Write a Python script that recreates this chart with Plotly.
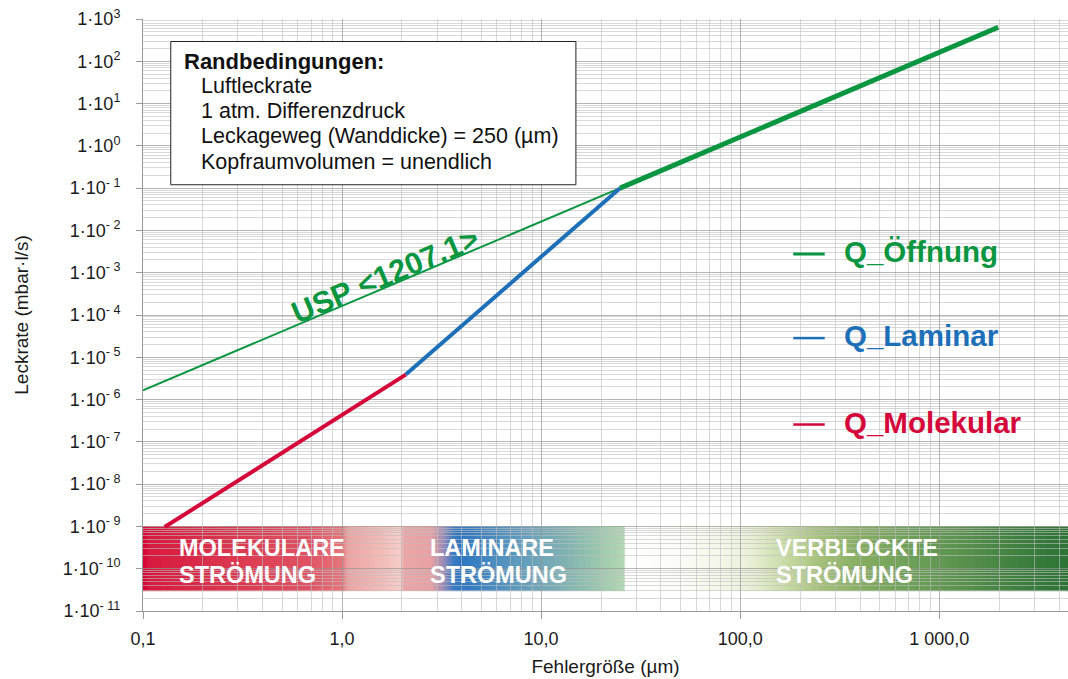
import numpy as np
import plotly.graph_objects as go

# ---------------- data ----------------
usp_d = [0.1, 24.9]            # USP <1207.1> (thin green)
usp_q = [1.66e-6, 0.1]
oeff_d = [24.9, 1980.0]        # Q_Öffnung (thick green)
oeff_q = [0.1, 640.0]
mol_d = [0.1285, 2.09]         # Q_Molekular
mol_q = [9.7e-10, 3.9e-6]
lam_d = [2.09, 24.9]           # Q_Laminar
lam_q = [3.9e-6, 0.1]

x_tickvals = [0.1, 1, 10, 100, 1000]
x_ticktext = ["0,1", "1,0", "10,0", "100,0", "1 000,0"]
y_exponents = list(range(3, -12, -1))

legend_names = ["Q_Öffnung", "Q_Laminar", "Q_Molekular"]
box_title = "Randbedingungen:"
box_lines = ["Luftleckrate", "1 atm. Differenzdruck",
             "Leckageweg (Wanddicke) = 250 (µm)", "Kopfraumvolumen = unendlich"]

# flow regime bands: (x start, x end) in µm, y range
band_molec_lam = [0.1, 26.3]
band_blocked = [30.0, 4500.0]
band_q = [2.95e-11, 1e-9]
regime_line1 = ["MOLEKULARE", "LAMINARE", "VERBLOCKTE"]
regime_line2 = ["STRÖMUNG", "STRÖMUNG", "STRÖMUNG"]
regime_label_x = [0.1476, 2.70, 147.5]
regime_label_q = [10 ** -9.51, 10 ** -10.16]

GREEN = "#0a9640"
BLUE = "#1d6fb8"
RED = "#d5073a"
FONT = "Liberation Sans"

# gradient stops (log10 x, colour)
stops_ml = [(-1.0, "#d50032"), (-0.97, "#d8193f"), (-0.5, "#dc3b52"), (-0.17, "#e05264"),
            (0.0, "#e6757a"), (0.03, "#eda3a3"), (0.2, "#f2bcb8"), (0.29, "#f6ccc8"),
            (0.31, "#eca6a6"), (0.45, "#e8a0a2"), (0.51, "#9a8ab8"), (0.56, "#3a7cc4"),
            (0.6, "#2e76c2"), (0.78, "#4e8ec0"), (0.95, "#6aa2bb"), (1.12, "#80b2b3"),
            (1.29, "#9ac8ad"), (1.43, "#b6dab4")]
stops_bl = [(1.47, "#ffffff"), (1.75, "#fafbf4"), (2.0, "#eef3e0"), (2.1, "#e0ebca"),
            (2.27, "#c0d59a"), (2.4, "#a6c17c"), (2.61, "#85ad62"), (2.9, "#6a9e56"),
            (3.14, "#57904b"), (3.4, "#3e8040"), (3.67, "#2a7234")]


def hex2rgb(h):
    h = h.lstrip("#")
    return np.array([int(h[i:i + 2], 16) for i in (0, 2, 4)], dtype=float)


def colour_at(stops, v):
    xs = [s[0] for s in stops]
    cs = [hex2rgb(s[1]) for s in stops]
    if v <= xs[0]:
        c = cs[0]
    elif v >= xs[-1]:
        c = cs[-1]
    else:
        i = np.searchsorted(xs, v) - 1
        t = (v - xs[i]) / (xs[i + 1] - xs[i])
        c = cs[i] * (1 - t) + cs[i + 1] * t
    return "rgb(%d,%d,%d)" % tuple(np.round(c))


def gradient_shapes(x_range, stops, step=0.012):
    shapes = []
    a = np.log10(x_range[0])
    end = np.log10(x_range[1])
    while a < end - 1e-9:
        b = min(a + step, end)
        shapes.append(dict(type="rect", xref="x", yref="y",
                           x0=10 ** a, x1=10 ** min(b + 0.004, end),
                           y0=band_q[0], y1=band_q[1],
                           fillcolor=colour_at(stops, (a + b) / 2),
                           line=dict(width=0), layer="below"))
        a = b
    return shapes


fig = go.Figure()
fig.add_trace(go.Scatter(x=usp_d, y=usp_q, mode="lines", line=dict(color=GREEN, width=2),
                         showlegend=False, hoverinfo="skip"))
fig.add_trace(go.Scatter(x=oeff_d, y=oeff_q, mode="lines", line=dict(color=GREEN, width=5),
                         name=legend_names[0], showlegend=False))
fig.add_trace(go.Scatter(x=lam_d, y=lam_q, mode="lines", line=dict(color=BLUE, width=4),
                         name=legend_names[1], showlegend=False))
fig.add_trace(go.Scatter(x=mol_d, y=mol_q, mode="lines", line=dict(color=RED, width=4),
                         name=legend_names[2], showlegend=False))

shapes = gradient_shapes(band_molec_lam, stops_ml) + gradient_shapes(band_blocked, stops_bl)

# constraints box
shapes.append(dict(type="rect", xref="paper", yref="paper", x0=0.030, x1=0.468,
                   y0=0.720, y1=0.962, fillcolor="white", line=dict(color="#222", width=1),
                   layer="above"))

annotations = []
annotations.append(dict(xref="paper", yref="paper", x=0.0425, y=0.928, text="<b>%s</b>" % box_title,
                        showarrow=False, xanchor="left", yanchor="middle",
                        font=dict(family=FONT, size=22, color="#111")))
for i, (t, yy) in enumerate(zip(box_lines, [0.886, 0.844, 0.802, 0.759])):
    annotations.append(dict(xref="paper", yref="paper", x=0.0605, y=yy, text=t,
                            showarrow=False, xanchor="left", yanchor="middle",
                            font=dict(family=FONT, size=21.5, color="#111")))

# legend-like labels
leg_cols = [GREEN, BLUE, RED]
leg_y = [0.603, 0.461, 0.315]
leg_w = [3, 2.5, 2.5]
for name, col, yy, w in zip(legend_names, leg_cols, leg_y, leg_w):
    shapes.append(dict(type="line", xref="paper", yref="paper", x0=0.703, x1=0.737,
                       y0=yy, y1=yy, line=dict(color=col, width=w)))
    annotations.append(dict(xref="paper", yref="paper", x=0.756, y=yy + 0.004, text="<b>%s</b>" % name,
                            showarrow=False, xanchor="left", yanchor="middle",
                            font=dict(family=FONT, size=29.5, color=col)))

# USP label along the line
annotations.append(dict(x=np.log10(1.64), y=np.log10(9.0e-4), text="<b>USP &lt;1207.1&gt;</b>",
                        showarrow=False, textangle=-23, xanchor="center", yanchor="middle",
                        font=dict(family=FONT, size=30.5, color=GREEN)))

# regime labels
for t1, t2, xx in zip(regime_line1, regime_line2, regime_label_x):
    for t, qq in zip([t1, t2], regime_label_q):
        annotations.append(dict(x=np.log10(xx), y=np.log10(qq), text="<b>%s</b>" % t,
                                showarrow=False, xanchor="left", yanchor="middle", align="left",
                                font=dict(family=FONT, size=23.5, color="white")))

minor_x = [m * 10.0 ** e for e in range(-1, 4) for m in range(2, 10)]
minor_y = [m * 10.0 ** e for e in range(-11, 3) for m in range(2, 10)]

MAJOR_GRID = "rgba(150,150,150,0.7)"
MINOR_GRID = "rgba(190,190,190,0.6)"

fig.update_layout(
    width=1068, height=679,
    margin=dict(l=143, r=0, t=19, b=68),
    paper_bgcolor="white", plot_bgcolor="white",
    shapes=shapes, annotations=annotations,
    font=dict(family=FONT, size=18, color="#1a1a1a"),
    showlegend=False,
)
fig.update_xaxes(
    type="log", range=[-1, 3.647], automargin=False,
    tickmode="array", tickvals=x_tickvals, ticktext=x_ticktext,
    ticks="outside", ticklen=7, tickcolor="#999", showline=True, linecolor="#999", linewidth=1,
    showgrid=True, gridcolor=MAJOR_GRID, gridwidth=1, zeroline=False,
    minor=dict(tickmode="array", tickvals=minor_x, showgrid=True, gridcolor=MINOR_GRID, ticks=""),
    title=dict(text="Fehlergröße (µm)", font=dict(size=19), standoff=12),
    tickfont=dict(size=18), ticklabelstandoff=4,
)
fig.update_yaxes(
    type="log", range=[-11, 3], automargin=False,
    tickmode="array", tickvals=[10.0 ** e for e in y_exponents],
    ticktext=["1·10<sup>%d</sup>" % e if e >= 0 else "1·10<sup>- %d</sup>" % -e for e in y_exponents],
    ticks="outside", ticklen=6, tickcolor="#999", showline=True, linecolor="#999", linewidth=1,
    showgrid=True, gridcolor=MAJOR_GRID, gridwidth=1, zeroline=False,
    minor=dict(tickmode="array", tickvals=minor_y, showgrid=True, gridcolor=MINOR_GRID, ticks=""),
    title=dict(text="Leckrate (mbar·l/s)", font=dict(size=19), standoff=29),
    tickfont=dict(size=18), ticklabelstandoff=12,
)

fig.write_html("out.html", config={"displayModeBar": False},
               post_script="document.body.style.margin='0';document.body.style.overflow='hidden';")
